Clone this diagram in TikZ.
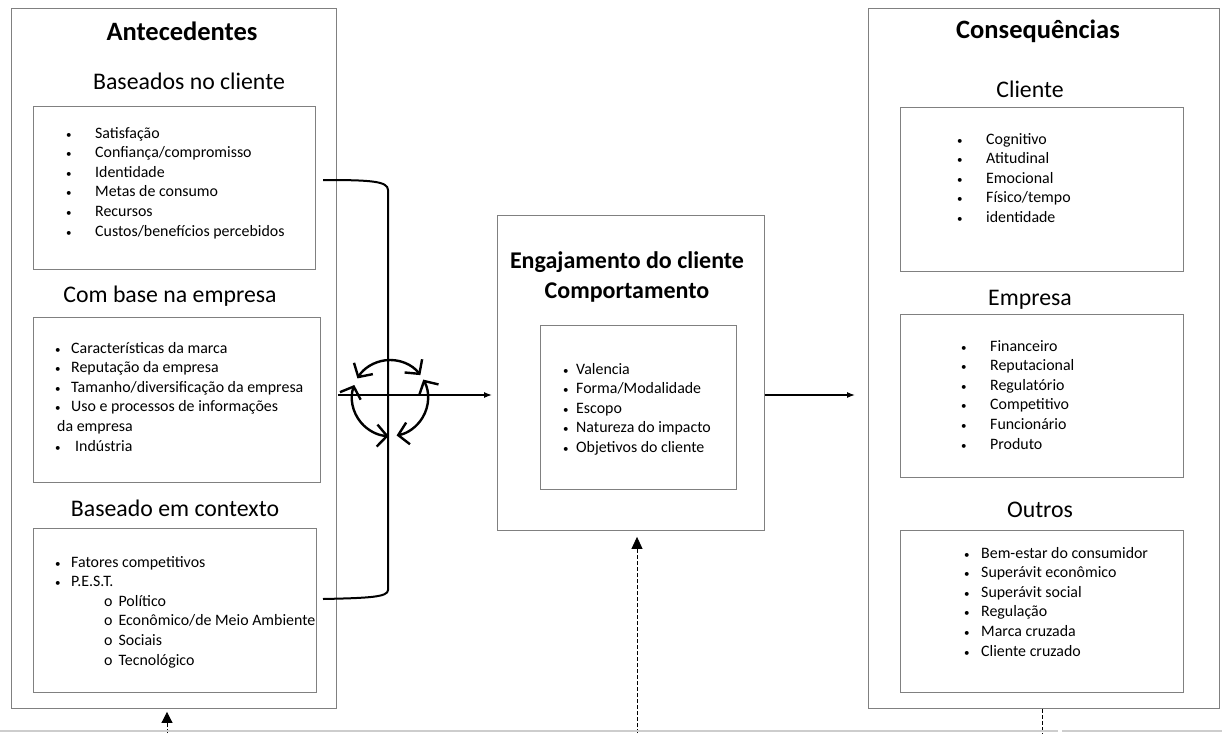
\documentclass[tikz,border=0pt]{standalone}
\usepackage{fontspec}
\setmainfont{Carlito}
\usetikzlibrary{arrows.meta}
\definecolor{frame}{RGB}{128,128,128}
\definecolor{baserule}{RGB}{205,205,205}
\newcommand{\fsbody}{\fontsize{15.9}{19.6}\selectfont}
\newcommand{\bul}{\hspace{1pt}{\fontsize{11}{11}\selectfont •}}
\newcommand{\pestitem}[1]{\multicolumn{2}{@{\hspace{50pt}}l@{}}{o\hspace{6pt}#1}}
\begin{document}
\begin{tikzpicture}[x=1pt,y=-1pt,
  panel/.style={draw=frame, line width=0.9pt, anchor=north west, inner sep=0pt},
  bigtitle/.style={font=\fontsize{26.5}{30}\selectfont\bfseries},
  heading/.style={font=\fontsize{23.8}{28}\selectfont},
  items/.style={anchor=base west, inner sep=0pt, font=\fsbody},
  flow/.style={line width=1.3pt, -{Latex[length=8pt,width=6pt]}},
  link/.style={line width=2pt},
  cycarrow/.style={line width=2.4pt,
    {Straight Barb[length=10pt,width=22pt]}-{Straight Barb[length=10pt,width=22pt]}},
  hint/.style={line width=0.8pt, dash pattern=on 4pt off 2pt},
]
\useasboundingbox (0,0) rectangle (1222,733);

% ---------- Antecedentes ----------
\node[panel, minimum width=325, minimum height=700] (ante) at (11,8) {};
\node[bigtitle] (anteT) at (182,31) {Antecedentes};

\node[heading] (cliT) at (189,81) {Baseados no cliente};
\node[panel, minimum width=282, minimum height=163] (cli) at (33,106) {};
\node[items] (cliL) at (65,138) {\begin{tabular}[t]{@{}p{30pt}@{}l@{}}
  \bul & Satisfação\\
  \bul & Confiança/compromisso\\
  \bul & Identidade\\
  \bul & Metas de consumo\\
  \bul & Recursos\\
  \bul & Custos/benefícios percebidos
\end{tabular}};

\node[heading] (empT) at (170,296) {Com base na empresa};
\node[panel, minimum width=287, minimum height=165] (emp) at (33,317) {};
\node[items] (empL) at (54,353) {\begin{tabular}[t]{@{}p{17pt}@{}l@{}}
  \bul & Características da marca\\
  \bul & Reputação da empresa\\
  \bul & Tamanho/diversificação da empresa\\
  \bul & Uso e processos de informações\\
  \multicolumn{2}{@{\hspace{3pt}}l@{}}{da empresa}\\
  \bul & \hspace{4pt}Indústria
\end{tabular}};

\node[heading] (ctxT) at (175,508) {Baseado em contexto};
\node[panel, minimum width=283, minimum height=164] (ctx) at (33,528) {};
\node[items] (ctxL) at (54,567) {\begin{tabular}[t]{@{}p{17pt}@{}l@{}}
  \bul & Fatores competitivos\\
  \bul & P.E.S.T.\\
  \pestitem{Político}\\
  \pestitem{Econômico/de Meio Ambiente}\\
  \pestitem{Sociais}\\
  \pestitem{Tecnológico}
\end{tabular}};

% ---------- Engajamento ----------
\node[panel, minimum width=267, minimum height=315] (eng) at (497,215) {};
\node[font=\fontsize{24}{30}\selectfont\bfseries, align=center] (engT) at (627,277)
  {Engajamento do cliente\\Comportamento};
\node[panel, minimum width=196, minimum height=164] (dim) at (540,325) {};
\node[items] (dimL) at (562,374) {\begin{tabular}[t]{@{}p{14pt}@{}l@{}}
  \bul & Valencia\\
  \bul & Forma/Modalidade\\
  \bul & Escopo\\
  \bul & Natureza do impacto\\
  \bul & Objetivos do cliente
\end{tabular}};

% ---------- Consequências ----------
\node[panel, minimum width=351, minimum height=700] (cons) at (868,8) {};
\node[bigtitle] (consT) at (1038,31) {Consequências};

\node[heading] (ccliT) at (1030,89) {Cliente};
\node[panel, minimum width=283, minimum height=164] (ccli) at (900,107) {};
\node[items] (ccliL) at (956,144) {\begin{tabular}[t]{@{}p{30pt}@{}l@{}}
  \bul & Cognitivo\\
  \bul & Atitudinal\\
  \bul & Emocional\\
  \bul & Físico/tempo\\
  \bul & identidade
\end{tabular}};

\node[heading] (cempT) at (1030,300) {Empresa};
\node[panel, minimum width=283, minimum height=163] (cemp) at (900,314) {};
\node[items] (cempL) at (960,351) {\begin{tabular}[t]{@{}p{30pt}@{}l@{}}
  \bul & Financeiro\\
  \bul & Reputacional\\
  \bul & Regulatório\\
  \bul & Competitivo\\
  \bul & Funcionário\\
  \bul & Produto
\end{tabular}};

\node[heading] (coutT) at (1040,510) {Outros};
\node[panel, minimum width=283, minimum height=162] (cout) at (900,530) {};
\node[items] (coutL) at (963,558) {\begin{tabular}[t]{@{}p{18pt}@{}l@{}}
  \bul & Bem-estar do consumidor\\
  \bul & Superávit econômico\\
  \bul & Superávit social\\
  \bul & Regulação\\
  \bul & Marca cruzada\\
  \bul & Cliente cruzado
\end{tabular}};

% ---------- bracket gathering the antecedents ----------
\coordinate (brTop) at (323,180);
\coordinate (brBot) at (323,599);
\draw[link] (brTop) .. controls (370,180) and (388,181) .. (388,190)
  -- (388,590) .. controls (388,597) and (370,598) .. (brBot);

% ---------- flows ----------
\coordinate (split) at (338,395);
\draw[flow, shorten >=5pt] (split) -- (split -| eng.west);
\draw[flow, shorten >=13pt] (split -| eng.east) -- (split -| cons.west);

% ---------- cycle of three arcs ----------
\coordinate (cyc) at (390,398);
\draw[cycarrow] ([shift={(-37:38)}]cyc) arc[start angle=-37, end angle=-149, radius=38];
\draw[cycarrow] ([shift={(-29:38)}]cyc) arc[start angle=-29, end angle=80, radius=38];
\draw[cycarrow] ([shift={(-160:38)}]cyc) arc[start angle=-160, end angle=-268, radius=38];

% ---------- dashed links along the bottom ----------
\coordinate (bl) at (167,733);
\coordinate (bc) at (637,733);
\coordinate (br) at (1042,733);
\draw[hint, -{Triangle[length=11pt,width=11pt]}, shorten >=3pt] (bl) -- (bl |- ante.south);
\draw[hint, -{Triangle[length=12pt,width=11pt]}, shorten >=6pt] (bc) -- (bc |- eng.south);
\draw[hint] (br |- cons.south) -- (br);

\draw[baserule, line width=2pt] (0,731) -- (1058,731) (1062,731) -- (1222,731);
\end{tikzpicture}
\end{document}
